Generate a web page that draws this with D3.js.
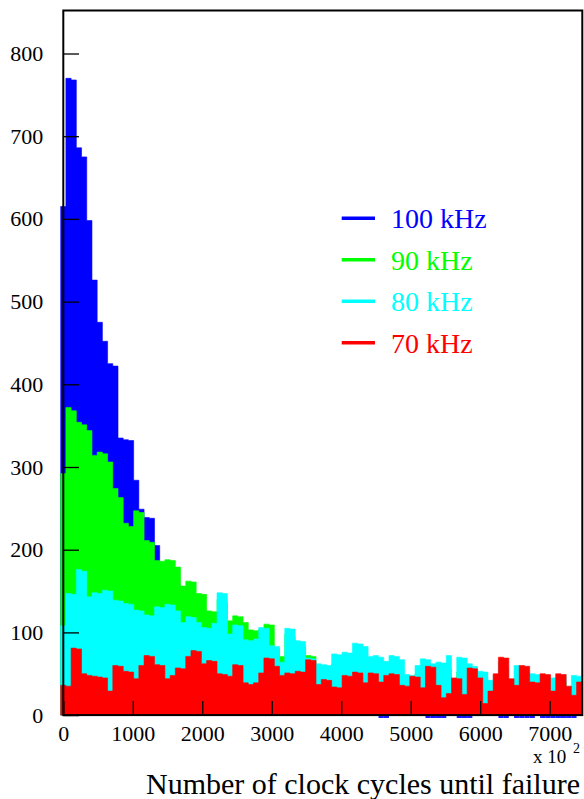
<!DOCTYPE html>
<html>
<head>
<meta charset="utf-8">
<script src="https://cdn.jsdelivr.net/npm/d3@7"></script>
<style>
  html, body { margin: 0; padding: 0; background: #ffffff; }
  svg { display: block; }
  text { font-family: "Liberation Serif", "Times New Roman", serif; }
</style>
</head>
<body>
<svg id="chart" width="584" height="799"></svg>
<script>
// Histogram binning: 100 bins of 75 (x 10^2 clock cycles), centred on multiples of 75
const binLow = -37.5;
const binWidth = 75;

// Counts per bin for each clock frequency
const counts100kHz = [
  615, 770, 768, 686, 675, 598, 526, 475, 452, 425,
  422, 335, 333, 332, 284, 249, 239, 238, 205, 178,
  172, 158, 151, 138, 131, 119, 112, 98, 94, 83,
  80, 69, 66, 57, 53, 47, 45, 39, 37, 32,
  30, 28, 23, 22, 19, 18, 15, 16, 12, 12,
  10, 11, 8, 9, 7, 6, 5, 6, 4, 3,
  4, 0, 0, 2, 3, 1, 2, 1, 1, 2,
  0, 0, 0, 0, 1, 1, 0, 0, 0, 1,
  2, 1, 1, 1, 0, 0, 1, 0, 0, 0,
  0, 1, 0, 0, 0, 0, 0, 0, 0, 1
];
const counts90kHz = [
  292, 372, 368, 354, 351, 344, 314, 318, 316, 306,
  274, 263, 232, 228, 247, 245, 211, 209, 187, 186,
  188, 187, 179, 156, 162, 161, 147, 146, 126, 125,
  140, 136, 114, 120, 119, 112, 103, 102, 104, 110,
  109, 80, 71, 98, 95, 85, 82, 72, 71, 58,
  57, 55, 62, 60, 58, 63, 70, 66, 61, 55,
  60, 52, 50, 57, 54, 48, 44, 42, 50, 52,
  47, 45, 49, 41, 55, 38, 52, 48, 45, 43,
  40, 38, 36, 41, 47, 44, 33, 42, 45, 39,
  37, 41, 35, 38, 34, 36, 40, 30, 33, 35
];
const counts80kHz = [
  108, 147, 146, 176, 174, 143, 148, 147, 151, 150,
  139, 138, 135, 134, 127, 126, 121, 120, 131, 130,
  134, 133, 126, 112, 119, 118, 112, 106, 105, 111,
  148, 147, 98, 109, 108, 91, 90, 92, 106, 105,
  84, 83, 64, 105, 104, 90, 89, 69, 68, 62,
  61, 60, 74, 73, 76, 75, 87, 86, 83, 71,
  72, 70, 65, 72, 71, 67, 49, 48, 60, 68,
  67, 62, 64, 63, 72, 44, 70, 69, 62, 59,
  53, 52, 42, 48, 64, 58, 40, 60, 56, 54,
  50, 49, 46, 44, 45, 46, 48, 34, 48, 47
];
const counts70kHz = [
  36, 35, 81, 80, 50, 48, 47, 46, 45, 29,
  60, 59, 53, 52, 44, 60, 72, 71, 61, 60,
  44, 48, 57, 56, 71, 78, 77, 62, 66, 65,
  50, 49, 47, 61, 60, 39, 37, 39, 51, 69,
  68, 59, 48, 51, 50, 53, 52, 67, 66, 37,
  43, 42, 34, 33, 48, 47, 52, 51, 39, 51,
  50, 40, 48, 50, 49, 36, 35, 47, 46, 33,
  59, 58, 36, 21, 26, 45, 44, 25, 57, 56,
  45, 14, 29, 50, 70, 69, 44, 36, 60, 59,
  40, 39, 50, 49, 29, 50, 49, 35, 24, 40
];

// Drawing order: back to front
const seriesLabels = ["100 kHz", "90 kHz", "80 kHz", "70 kHz"];
const seriesColors = ["#0000ff", "#00ff00", "#00ffff", "#ff0000"];
const seriesCounts = [counts100kHz, counts90kHz, counts80kHz, counts70kHz];

// Axis ticks and ranges
const xMax = 7470;
const yMax = 852;
const xMajorTicks = [0, 1000, 2000, 3000, 4000, 5000, 6000, 7000];
const xMinorTicks = d3.range(0, 7401, 200);
const yMajorTicks = [0, 100, 200, 300, 400, 500, 600, 700, 800];
const yMinorTicks = d3.range(0, 841, 20);

const svg = d3.select("#chart");
const frame = { left: 63.3, right: 582.3, top: 10.5, bottom: 715.1 };

const x = d3.scaleLinear().domain([0, xMax]).range([frame.left, frame.right]);
const y = d3.scaleLinear().domain([0, yMax]).range([frame.bottom, frame.top]);

// Filled step histograms
const area = d3.area()
  .x(d => x(d.edge))
  .y0(y(0))
  .y1(d => y(d.v))
  .curve(d3.curveStepAfter);

seriesCounts.forEach((counts, s) => {
  const pts = counts.map((v, i) => ({ edge: binLow + i * binWidth, v }));
  pts.push({ edge: binLow + counts.length * binWidth, v: counts[counts.length - 1] });
  svg.append("path")
    .datum(pts)
    .attr("d", area)
    .attr("fill", seriesColors[s])
    .attr("stroke", seriesColors[s])
    .attr("stroke-width", 0.6);
});

// Axes: ticks point inward, labels outside
const gx = svg.append("g").attr("transform", `translate(0,${frame.bottom})`);
gx.call(d3.axisBottom(x).tickValues(xMinorTicks).tickSize(-7).tickFormat(""));
gx.call(d3.axisBottom(x).tickValues(xMajorTicks).tickSize(-14).tickPadding(10.5).tickFormat(d3.format("d")));

const gy = svg.append("g").attr("transform", `translate(${frame.left},0)`);
gy.call(d3.axisLeft(y).tickValues(yMinorTicks).tickSize(-8.3).tickFormat(""));
gy.call(d3.axisLeft(y).tickValues(yMajorTicks).tickSize(-15.7).tickPadding(20).tickFormat(d3.format("d")));

svg.selectAll(".domain").remove();
svg.selectAll(".tick line").attr("stroke", "#000").attr("stroke-width", 1.3);
svg.selectAll(".tick text")
  .attr("fill", "#000")
  .attr("font-size", 22);

// Frame
svg.append("rect")
  .attr("x", frame.left).attr("y", frame.top)
  .attr("width", frame.right - frame.left)
  .attr("height", frame.bottom - frame.top)
  .attr("fill", "none")
  .attr("stroke", "#000")
  .attr("stroke-width", 2);

// Empty 100 kHz bins: their outline runs along the baseline, just under the axis
counts100kHz.forEach((v, i) => {
  if (v !== 0) return;
  svg.append("line")
    .attr("x1", x(binLow + i * binWidth))
    .attr("x2", x(binLow + (i + 1) * binWidth))
    .attr("y1", y(0) + 1.9).attr("y2", y(0) + 1.9)
    .attr("stroke", seriesColors[0])
    .attr("stroke-width", 1.8);
});

// Axis title and exponent
svg.append("text")
  .attr("x", 580).attr("y", 794)
  .attr("text-anchor", "end")
  .attr("font-size", 30)
  .attr("fill", "#000")
  .text("Number of clock cycles until failure");

svg.append("text")
  .attr("x", 533).attr("y", 763)
  .attr("font-size", 19)
  .attr("fill", "#000")
  .text("x 10");
svg.append("text")
  .attr("x", 573).attr("y", 753)
  .attr("font-size", 14)
  .attr("fill", "#000")
  .text("2");

// Legend
const legend = svg.append("g");
seriesLabels.forEach((label, i) => {
  const ly = 218.3 + i * 41.5;
  legend.append("line")
    .attr("x1", 341.7).attr("x2", 375)
    .attr("y1", ly).attr("y2", ly)
    .attr("stroke", seriesColors[i])
    .attr("stroke-width", 3.4);
  legend.append("text")
    .attr("x", 391).attr("y", ly + 10)
    .attr("font-size", 28)
    .attr("fill", seriesColors[i])
    .text(label);
});
</script>
</body>
</html>
